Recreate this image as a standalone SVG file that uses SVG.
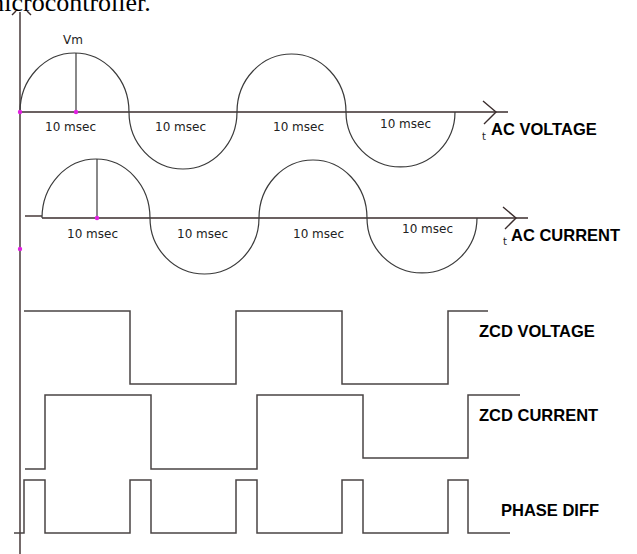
<svg xmlns="http://www.w3.org/2000/svg" width="637" height="554" viewBox="0 0 637 554">
<style>
.ax{fill:none;stroke:#3a2c2c;stroke-width:1.4}
.wv{fill:none;stroke:#3a3a3a;stroke-width:1.2}
.sq{fill:none;stroke:#4a4444;stroke-width:1.5}
.dot{fill:#e020e0}
.sm{font-family:"DejaVu Sans",sans-serif;font-size:12px;fill:#222}
.tt{font-family:"DejaVu Sans",sans-serif;font-size:10px;fill:#222}
.lb{font-family:"Liberation Sans",Arial,sans-serif;font-weight:bold;font-size:16.5px;fill:#000}
</style>
<rect width="637" height="554" fill="#fff"/>
<text x="-16" y="11" font-family="'Liberation Serif',serif" font-size="26" fill="#000">microcontroller.</text>
<g id="connectors">
<line class="ax" x1="20" y1="12" x2="20" y2="554"/>
<polyline class="ax" points="12,15 16,11"/>
<polyline class="ax" points="27,11 31,15"/>
<line class="ax" x1="20" y1="112" x2="508" y2="112"/>
<polyline class="ax" points="483,101 496,112 484,124"/>
<line class="ax" x1="25" y1="216" x2="42" y2="216"/>
<line class="ax" x1="42" y1="218" x2="528" y2="218"/>
<polyline class="ax" points="503,207 516,218 505,229"/>
</g>
<g id="ac-voltage">
<path class="wv" d="M20,112 A54.5,59 0 0 1 129,112 A54,57 0 0 0 237,112 A54.5,58 0 0 1 346,112 A54.5,55 0 0 0 455,112"/>
<line class="wv" x1="76" y1="53" x2="76" y2="112"/>
<circle class="dot" cx="20" cy="112" r="2.2"/>
<circle class="dot" cx="76" cy="112" r="2.2"/>
<text class="sm" x="63" y="44">Vm</text>
<text class="sm" x="45" y="131">10 msec</text>
<text class="sm" x="155" y="131">10 msec</text>
<text class="sm" x="273" y="131">10 msec</text>
<text class="sm" x="380" y="128">10 msec</text>
<text class="tt" x="482" y="140">t</text>
<text class="lb" x="491" y="135">AC VOLTAGE</text>
</g>
<g id="ac-current">
<path class="wv" d="M42,218 A54,59 0 0 1 150,218 A54.5,56 0 0 0 259,218 A54,58 0 0 1 367,218 A55,55 0 0 0 477,218"/>
<line class="wv" x1="97" y1="159" x2="97" y2="218"/>
<circle class="dot" cx="97" cy="218" r="2.2"/>
<circle class="dot" cx="20" cy="249" r="2.2"/>
<text class="sm" x="67" y="238">10 msec</text>
<text class="sm" x="177" y="238">10 msec</text>
<text class="sm" x="293" y="238">10 msec</text>
<text class="sm" x="402" y="233">10 msec</text>
<text class="tt" x="503" y="245">t</text>
<text class="lb" x="511" y="241">AC CURRENT</text>
</g>
<g id="zcd-voltage">
<polyline class="sq" points="24,311 130,311 130,384 236,384 236,311 342,311 342,384 448,384 448,311 488,311"/>
<text class="lb" x="479" y="337">ZCD VOLTAGE</text>
</g>
<g id="zcd-current">
<polyline class="sq" points="25,469 45,469 45,395 151,395 151,469 257,469 257,395 363,395 363,458 468,458 468,395 520,395"/>
<text class="lb" x="479" y="421">ZCD CURRENT</text>
</g>
<g id="phase-diff">
<polyline class="sq" points="14,533 24,533 24,480 45,480 45,533 130,533 130,480 151,480 151,533 236,533 236,480 257,480 257,533 342,533 342,480 363,480 363,533 448,533 448,480 468,480 468,533 510,533"/>
<text class="lb" x="501" y="516">PHASE DIFF</text>
</g>
</svg>
